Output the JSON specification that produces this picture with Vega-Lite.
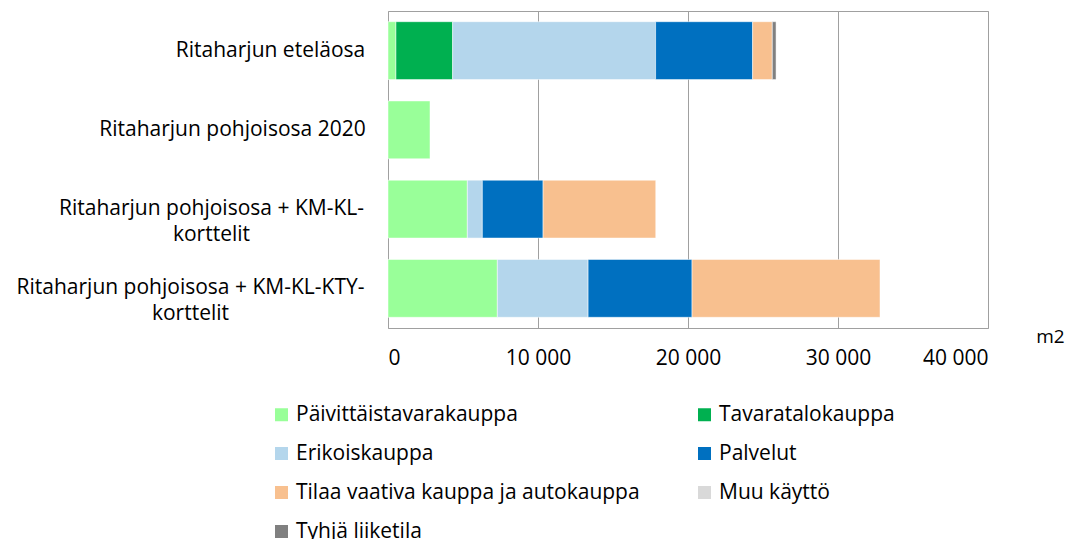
{
  "$schema": "https://vega.github.io/schema/vega-lite/v6.json",
  "width": 600,
  "height": 317,
  "autosize": {"type": "none"},
  "padding": {"left": 388, "top": 11, "right": 80, "bottom": 211},
  "background": "white",
  "config": {"view": {"stroke": "#a0a0a0", "strokeWidth": 1}, "font": "Open Sans"},
  "data": {"values": [
    {"alue": "Ritaharjun eteläosa", "tyyppi": "Päivittäistavarakauppa", "m2": 530},
    {"alue": "Ritaharjun eteläosa", "tyyppi": "Tavaratalokauppa", "m2": 3780},
    {"alue": "Ritaharjun eteläosa", "tyyppi": "Erikoiskauppa", "m2": 13530},
    {"alue": "Ritaharjun eteläosa", "tyyppi": "Palvelut", "m2": 6470},
    {"alue": "Ritaharjun eteläosa", "tyyppi": "Tilaa vaativa kauppa ja autokauppa", "m2": 1310},
    {"alue": "Ritaharjun eteläosa", "tyyppi": "Tyhjä liiketila", "m2": 250},
    {"alue": "Ritaharjun pohjoisosa 2020", "tyyppi": "Päivittäistavarakauppa", "m2": 2800},
    {"alue": "Ritaharjun pohjoisosa + KM-KL-korttelit", "tyyppi": "Päivittäistavarakauppa", "m2": 5290},
    {"alue": "Ritaharjun pohjoisosa + KM-KL-korttelit", "tyyppi": "Erikoiskauppa", "m2": 1000},
    {"alue": "Ritaharjun pohjoisosa + KM-KL-korttelit", "tyyppi": "Palvelut", "m2": 4050},
    {"alue": "Ritaharjun pohjoisosa + KM-KL-korttelit", "tyyppi": "Tilaa vaativa kauppa ja autokauppa", "m2": 7510},
    {"alue": "Ritaharjun pohjoisosa + KM-KL-KTY-korttelit", "tyyppi": "Päivittäistavarakauppa", "m2": 7290},
    {"alue": "Ritaharjun pohjoisosa + KM-KL-KTY-korttelit", "tyyppi": "Erikoiskauppa", "m2": 6050},
    {"alue": "Ritaharjun pohjoisosa + KM-KL-KTY-korttelit", "tyyppi": "Palvelut", "m2": 6930},
    {"alue": "Ritaharjun pohjoisosa + KM-KL-KTY-korttelit", "tyyppi": "Tilaa vaativa kauppa ja autokauppa", "m2": 12530}
  ]},
  "transform": [
    {"calculate": "indexof(['Päivittäistavarakauppa', 'Tavaratalokauppa', 'Erikoiskauppa', 'Palvelut', 'Tilaa vaativa kauppa ja autokauppa', 'Muu käyttö', 'Tyhjä liiketila'], datum.tyyppi)", "as": "jarjestys"}
  ],
  "mark": {"type": "bar", "stroke": "white", "strokeWidth": 0.5},
  "encoding": {
    "y": {
      "field": "alue", "type": "nominal", "sort": null,
      "scale": {"paddingInner": 0.27, "paddingOuter": 0.135},
      "axis": {
        "title": null, "domain": false, "ticks": false,
        "labelFontSize": 21, "labelColor": "#000", "labelAlign": "center", "labelBaseline": "middle",
        "labelLineHeight": 26, "labelLimit": 0,
        "labelExpr": "split(replace(datum.label, '-korttelit', '-|korttelit'), '|')",
        "labelPadding": {"condition": [
          {"test": "datum.value === 'Ritaharjun eteläosa'", "value": 118},
          {"test": "datum.value === 'Ritaharjun pohjoisosa 2020'", "value": 156},
          {"test": "datum.value === 'Ritaharjun pohjoisosa + KM-KL-korttelit'", "value": 177}
        ], "value": 198}
      }
    },
    "x": {
      "field": "m2", "type": "quantitative",
      "scale": {"domain": [0, 40000], "nice": false},
      "axis": {
        "values": [0, 10000, 20000, 30000, 40000], "grid": true, "gridColor": "#a0a0a0",
        "domain": false, "ticks": false, "labelFontSize": 21, "labelColor": "#000", "labelPadding": 19,
        "labelExpr": "replace(format(datum.value, ','), ',', ' ')",
        "title": "m2", "titleX": 662, "titleY": 8, "titleFontSize": 19, "titleFontWeight": "normal",
        "titleAlign": "center", "titleBaseline": "middle", "titleColor": "#000"
      }
    },
    "order": {"field": "jarjestys", "type": "quantitative"},
    "color": {
      "field": "tyyppi", "type": "nominal",
      "sort": ["Päivittäistavarakauppa", "Tavaratalokauppa", "Erikoiskauppa", "Palvelut", "Tilaa vaativa kauppa ja autokauppa", "Muu käyttö", "Tyhjä liiketila"],
      "scale": {
        "domain": ["Päivittäistavarakauppa", "Tavaratalokauppa", "Erikoiskauppa", "Palvelut", "Tilaa vaativa kauppa ja autokauppa", "Muu käyttö", "Tyhjä liiketila"],
        "range": ["#99ff99", "#00b050", "#b4d6ec", "#0070c0", "#f8c08f", "#d9d9d9", "#808080"]
      },
      "legend": {
        "title": null, "orient": "none", "direction": "horizontal", "legendX": -117, "legendY": 393, "columns": 2,
        "columnPadding": 54, "rowPadding": 17, "symbolType": "square", "symbolSize": 169,
        "symbolStrokeWidth": 0, "labelFontSize": 21, "labelColor": "#000", "labelOffset": 4, "labelLimit": 0
      }
    }
  }
}
